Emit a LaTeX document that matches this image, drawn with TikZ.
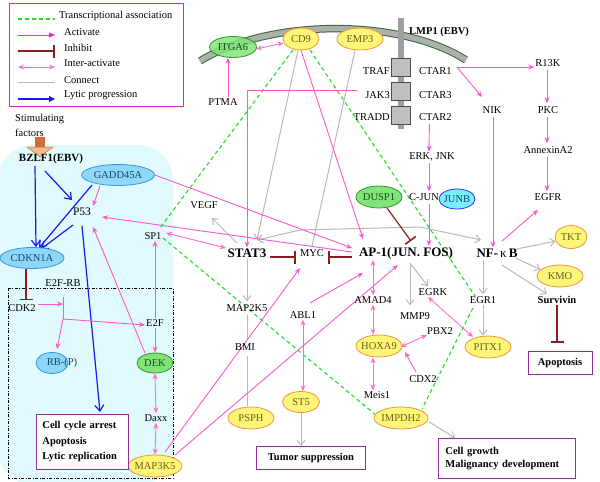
\documentclass[tikz,border=0pt]{standalone}
\usepackage{fontspec}
\setmainfont{Liberation Serif}
\usetikzlibrary{arrows.meta,shapes.geometric,calc}
\definecolor{actc}{RGB}{255,85,205}
\definecolor{legact}{RGB}{240,30,230}
\definecolor{interc}{RGB}{255,110,205}
\definecolor{inhc}{RGB}{140,30,35}
\definecolor{connc}{RGB}{185,185,185}
\definecolor{lytc}{RGB}{25,25,235}
\definecolor{tranc}{RGB}{30,225,30}
\definecolor{yelf}{RGB}{255,245,120}
\definecolor{yeld}{RGB}{240,150,60}
\definecolor{yelt}{RGB}{105,95,20}
\definecolor{grnf}{RGB}{130,228,120}
\definecolor{grnd}{RGB}{50,150,50}
\definecolor{grnt}{RGB}{20,80,20}
\definecolor{cyf}{RGB}{140,215,250}
\definecolor{cyd}{RGB}{60,150,220}
\definecolor{cyt}{RGB}{20,70,100}
\definecolor{junf}{RGB}{120,240,255}
\definecolor{bgc}{RGB}{225,250,253}
\definecolor{boxc}{RGB}{140,50,150}
\definecolor{legc}{RGB}{215,40,200}
\definecolor{memf}{RGB}{170,178,170}
\definecolor{memd}{RGB}{60,100,60}
\definecolor{shaftc}{RGB}{205,110,50}
\definecolor{headc}{RGB}{242,192,140}
\pgfdeclarelayer{bg}
\pgfdeclarelayer{lines}
\pgfsetlayers{bg,lines,main}
\tikzset{
  lbl/.style={inner sep=1pt, font=\fontsize{10.5}{12}\selectfont},
  bigl/.style={inner sep=1pt, font=\fontsize{13}{15}\selectfont\bfseries},
  ell/.style={ellipse, inner sep=0pt, inner xsep=-3pt, line width=0.8pt, font=\fontsize{10.5}{12}\selectfont},
  yel/.style={ell, draw=yeld, fill=yelf, text=yelt},
  grn/.style={ell, draw=grnd, fill=grnf, text=grnt},
  cyn/.style={ell, draw=cyd, fill=cyf, text=cyt},
  act/.style={draw=actc, line width=0.9pt, -{Stealth[length=6pt,width=5pt]}},
  inter/.style={draw=interc, line width=0.9pt, {Stealth[length=6pt,width=5pt]}-{Stealth[length=6pt,width=5pt]}},
  inh/.style={draw=inhc, line width=1.2pt, -{Bar[width=13pt,line width=1.6pt]}},
  conn/.style={draw=connc, line width=1pt},
  conna/.style={conn, -{Straight Barb[length=5pt,width=8pt,line width=1pt]}},
  lyt/.style={draw=lytc, line width=1.2pt, -{Straight Barb[length=6pt,width=9pt,line width=1.2pt]}},
  trans/.style={draw=tranc, line width=1.1pt, dash pattern=on 4pt off 3pt},
  outbox/.style={draw=boxc, line width=0.9pt, fill=white, align=left, inner sep=0pt, font=\fontsize{10.5}{15.5}\selectfont\bfseries},
}
\begin{document}
\begin{tikzpicture}[x=1pt,y=-1pt]
\useasboundingbox (0,0) rectangle (600,482);

% ---------- background ----------
\begin{pgfonlayer}{bg}
\fill[bgc, rounded corners=35pt] (-2,145) rectangle (173,485);
\draw[black, line width=0.6pt, dash pattern=on 3pt off 1.5pt on 1pt off 1.5pt] (8,288) rectangle (173,478);
\draw[line width=7.5pt, memd] (200,61) .. controls (270,18) and (400,18) .. (466,60);
\draw[line width=5.5pt, memf] (200,61) .. controls (270,18) and (400,18) .. (466,60);
\fill[gray!75] (398,18) rectangle (404,129);
\end{pgfonlayer}
\node[draw=gray!60!black, fill=gray!50, minimum width=19, minimum height=18, inner sep=0] (sqa) at (401,67) {};
\node[draw=gray!60!black, fill=gray!50, minimum width=19, minimum height=18, inner sep=0] (sqb) at (401,91) {};
\node[draw=gray!60!black, fill=gray!50, minimum width=19, minimum height=18, inner sep=0] (sqc) at (401,115) {};

% ---------- legend ----------
\node[draw=legc, line width=0.9pt, fill=white, minimum width=174, minimum height=103, anchor=north west, inner sep=0] (legend) at (9,3) {};
\draw[trans] (18,19) -- (55,19);
\draw[draw=legact, line width=1pt, -{Triangle[length=6pt,width=5pt]}] (18,35) -- (55,35);
\draw[draw=inhc, line width=1.2pt, -{Bar[width=13pt,line width=1.6pt]}] (18,51) -- (55,51);
\draw[inter] (18,67) -- (55,67);
\draw[conn] (18,82) -- (55,82);
\draw[draw=lytc, line width=1.2pt, -{Triangle[length=6pt,width=6pt]}] (18,99) -- (55,99);
\node[lbl, anchor=west] (lg1) at (58,16) {Transcriptional association};
\node[lbl, anchor=west] (lg2) at (63,32) {Activate};
\node[lbl, anchor=west] (lg3) at (63,48) {Inhibit};
\node[lbl, anchor=west] (lg4) at (63,63) {Inter-activate};
\node[lbl, anchor=west] (lg5) at (63,80) {Connect};
\node[lbl, anchor=west] (lg6) at (63,95) {Lytic progression};

% ---------- stimulating factors ----------
\node[lbl, anchor=west, align=left, font=\fontsize{10.5}{15}\selectfont] (stim) at (14,125) {Stimulating\\factors};
\fill[shaftc] (35,137) rectangle (45,147);
\filldraw[fill=headc, draw=shaftc, line width=0.5pt] (27,147) -- (53,147) -- (40,157) -- cycle;

% ---------- nodes ----------
\node[inner sep=1pt, font=\fontsize{11}{13}\selectfont\bfseries] (BZLF) at (51,159) {BZLF1(EBV)};
\node[cyn, minimum width=73, minimum height=21] (GADD) at (118,175) {GADD45A};
\node[lbl, font=\fontsize{11.5}{13}\selectfont] (P53) at (82,212) {P53};
\node[cyn, minimum width=64, minimum height=21] (CDKN) at (32,258) {CDKN1A};
\node[lbl] (E2FRB) at (63,283) {E2F-RB};
\node[lbl] (CDK2) at (22,308) {CDK2};
\node[lbl] (SP1) at (153,236) {SP1};
\node[lbl] (VEGF) at (204,205) {VEGF};
\node[bigl] (STAT3) at (247,253) {STAT3};
\node[lbl] (MYC) at (312,253) {MYC};
\node[bigl] (AP1) at (406,253) {AP-1(JUN. FOS)};
\node[bigl] (NFKB) at (497,253) {NF-\hspace{2pt}{\mdseries κ}\hspace{2pt}B};
\node[yel, minimum width=32, minimum height=23] (TKT) at (571,237) {TKT};
\node[yel, minimum width=46, minimum height=22] (KMO) at (560,276) {KMO};
\node[lbl, font=\fontsize{10.5}{12}\selectfont\bfseries] (Surv) at (557,300) {Survivin};
\node[outbox, align=center, minimum width=64, minimum height=23] (apop) at (560,362.5) {Apoptosis};
\node[lbl] (EGFR) at (548,197) {EGFR};
\node[lbl] (R13K) at (548,63) {R13K};
\node[lbl] (PKC) at (548,110) {PKC};
\node[lbl] (ANX) at (548,150) {AnnexinA2};
\node[lbl] (NIK) at (492,110) {NIK};
\node[lbl, anchor=west] (CTAR1) at (418,71) {CTAR1};
\node[lbl, anchor=west] (CTAR3) at (418,95) {CTAR3};
\node[lbl, anchor=west] (CTAR2) at (418,117) {CTAR2};
\node[lbl, anchor=west, font=\fontsize{10.5}{12}\selectfont\bfseries] (LMP1) at (408,32) {LMP1 (EBV)};
\node[lbl, anchor=east] (TRAF) at (391,71) {TRAF};
\node[lbl, anchor=east] (JAK3) at (391,95) {JAK3};
\node[lbl, anchor=east] (TRADD) at (391,117) {TRADD};
\node[grn, minimum width=47, minimum height=21, fill opacity=0.85, text opacity=1] (ITGA6) at (233,47) {ITGA6};
\node[yel, minimum width=36, minimum height=22] (CD9) at (301,39) {CD9};
\node[yel, minimum width=46, minimum height=22] (EMP3) at (360,39) {EMP3};
\node[lbl] (PTMA) at (223,102) {PTMA};
\node[lbl] (ERK) at (432,157) {ERK, JNK};
\node[ell, draw=blue!80, fill=junf, text=cyt, minimum width=36, minimum height=20] (JUNB) at (457,199) {JUNB};
\node[lbl] (CJUN) at (424,197) {C-JUN};
\node[grn, minimum width=46, minimum height=22] (DUSP1) at (379,197) {DUSP1};
\node[lbl] (EGRK) at (433,292) {EGRK};
\node[lbl] (MMP9) at (415,316) {MMP9};
\node[lbl] (AMAD4) at (373,300) {AMAD4};
\node[yel, minimum width=46, minimum height=22] (HOXA9) at (379,346) {HOXA9};
\node[lbl] (PBX2) at (440,331) {PBX2};
\node[lbl] (CDX2) at (423,379) {CDX2};
\node[lbl] (EGR1) at (483,300) {EGR1};
\node[yel, minimum width=46, minimum height=22] (PITX1) at (488,347) {PITX1};
\node[lbl] (Meis1) at (377,395) {Meis1};
\node[yel, minimum width=54, minimum height=22] (IMPDH2) at (401,418) {IMPDH2};
\node[outbox, anchor=north west, minimum width=137, minimum height=40, text width=123] (growth) at (438,438) {Cell growth\\[-2pt]Malignancy development};
\node[yel, minimum width=37, minimum height=21] (ST5) at (301,402) {ST5};
\node[yel, minimum width=46, minimum height=22] (PSPH) at (251,418) {PSPH};
\node[lbl] (BMI) at (245,347) {BMI};
\node[lbl] (ABL1) at (303,315) {ABL1};
\node[lbl] (MAP2K5) at (247,308) {MAP2K5};
\node[outbox, align=center, anchor=north west, minimum width=109, minimum height=23] (tumor) at (256,446) {Tumor suppression};
\node[grn, minimum width=36, minimum height=20] (DEK) at (155,363) {DEK};
\node[cyn, minimum width=32, minimum height=21] (RB) at (52,363) {};
\node[lbl, text=cyt] (RBt) at (62,363) {RB-(P)};
\node[lbl] (E2F) at (155,323) {E2F};
\node[lbl] (Daxx) at (156,418) {Daxx};
\node[yel, minimum width=54, minimum height=22] (MAP3K5) at (155,466) {MAP3K5};
\node[outbox, anchor=north west, minimum width=92, minimum height=55, text width=80] (cellc) at (36,414) {Cell cycle arrest\\Apoptosis\\Lytic replication};

% helper coordinates
\coordinate (rbt) at (63,297);
\coordinate (rbb) at (63,319);
\coordinate (g1) at (300,230);
\coordinate (g2) at (420,227);

% ---------- connectors ----------
\begin{pgfonlayer}{lines}
% lytic progression
\draw[lyt] ($(BZLF)+(-16,7)$) -- ($(CDKN.north)+(4,0)$);
\draw[lyt] ($(BZLF)+(-6,12)$) -- ($(P53)+(-10,-12)$);
\draw[lyt] ($(GADD)+(-26,10)$) -- ($(CDKN)+(7,-10)$);
\draw[lyt] ($(P53)+(-9,13)$) -- ($(CDKN)+(9,-9)$);
\draw[lyt] ($(P53)+(0,14)$) -- ($(cellc.north west)+(64,-2)$);

% transcriptional association
\draw[trans] ($(CD9)+(-8,11)$) -- ($(SP1)+(7,-8)$);
\draw[trans] ($(SP1)+(10,2)$) -- (IMPDH2.172);
\draw[trans] ($(CD9)+(9,11)$) -- ($(EGR1)+(-8,-4)$);
\draw[trans] ($(EGR1)+(-10,8)$) -- ($(IMPDH2)+(21,-9)$);

% connect (grey)
\draw[conna] ($(CD9.south)+(-3,0)$) -- ($(STAT3)+(10,-13)$);
\draw[conn] ($(EMP3.south)+(-5,0)$) -- ($(MYC.north)+(0,-2)$);
\draw[conn, {Straight Barb[length=5pt,width=8pt,line width=1pt]}-{Straight Barb[length=5pt,width=8pt,line width=1pt]}] ($(STAT3)+(10,-13)$) -- (g1) -- (g2) -- ($(NFKB)+(-16,-13)$);
\draw[conna] ($(STAT3)+(-10,-10)$) -- ($(VEGF)+(8,13)$);
\draw[conna] (STAT3.south) -- ($(MAP2K5.north)+(0,-2)$);
\draw[conn] ($(MAP2K5.south)+(0,2)$) -- ($(BMI.north)+(2,-2)$);
\draw[conn] ($(BMI.south)+(2,4)$) -- ($(PSPH.north)+(-4,-1)$);
\draw[conna] (ST5.south) -- (ST5.south |- tumor.north);
\draw[conna] ($(IMPDH2.east)+(1,4)$) -- ($(growth.north west)+(17,0)$);
\draw[conna] ($(AP1.south)+(4,3)$) -- ($(MMP9.north)+(-5,-6)$);
\draw[conna] ($(AP1.south)+(4,3)$) -- ($(EGRK.north)+(-5,-1)$);
\draw[conna] ($(NFKB.south)+(-14,2)$) -- ($(EGR1.north)+(0,-1)$);
\draw[conna] (EGR1.south) -- (EGR1.south |- PITX1.north);
\draw[conna] ($(NFKB.east)+(-2,-4)$) -- (TKT.195);
\draw[conna] ($(NFKB.east)+(-3,5)$) -- (KMO.162);
\draw[conna] ($(NFKB)+(5,12)$) -- ($(Surv.north)+(-10,-1)$);

% inhibit
\draw[inh] ($(CDKN.south)+(-6,0)$) -- ($(CDK2.north)+(4,-3)$);
\draw[inh] ($(STAT3.east)+(3,4)$) -- ($(MYC.west)+(-3,4)$);
\draw[inh] ($(AP1.west)+(-6,4)$) -- ($(MYC.east)+(3,4)$);
\draw[inh] ($(DUSP1)+(8,11)$) -- ($(AP1)+(5,-12)$);
\draw[inh] (Surv.south) -- ($(apop.north)+(-3,-8)$);

% activate / inter-activate
\draw[act] ($(GADD)+(-18,11)$) -- ($(P53)+(11,-6)$);
\draw[act] (GADD.east) -- ($(AP1)+(-54,-5)$);
\draw[act] ($(AP1)+(-54,-1)$) -- ($(P53)+(20,5)$);
\draw[inter] ($(SP1)+(13,-3)$) -- ($(STAT3)+(-21,-5)$);
\draw[act] (CD9.south) -- ($(AP1)+(-43,-14)$);
\draw[act] ($(JAK3.west)+(-7,-5)$) -| (STAT3.north);
\draw[act] ($(PTMA.north)+(5,0)$) -- ($(ITGA6.south)+(-5,0)$);
\draw[inter] ($(ITGA6.east)+(-1,2)$) -- ($(CD9.west)+(1,4)$);
\coordinate (c1) at ($(CTAR1.east)+(4,-4)$);
\draw[act] (c1) -- (c1 -| R13K.west);
\draw[act] (c1) -- ($(NIK)+(-10,-13)$);
\draw[act] ($(R13K.south)+(-1,2)$) -- ($(PKC.north)+(-1,-2)$);
\draw[act] ($(PKC.south)+(-1,2)$) -- ($(ANX.north)+(-1,-2)$);
\draw[act] ($(ANX.south)+(-1,2)$) -- ($(EGFR.north)+(-1,-1)$);
\draw[act] ($(NIK.south)+(1,2)$) -- ($(NIK.south |- NFKB.north)+(1,0)$);
\draw[act] ($(NFKB)+(5,-12)$) -- ($(EGFR)+(-10,13)$);
\draw[act] ($(CTAR2.south)+(-6,2)$) -- ($(ERK.north)+(-3,0)$);
\draw[act] ($(ERK.south)+(-3,1)$) -- ($(CJUN.north)+(5,-1)$);
\draw[act] ($(CJUN.south)+(5,2)$) -- ($(AP1.north)+(23,0)$);
\draw[act] ($(ABL1)+(7,-12)$) -- ($(AP1)+(-43,20)$);
\draw[inter] (ABL1.south) -- (ABL1.south |- ST5.north);
\draw[act] ($(MAP3K5)+(10,-14)$) -- ($(MYC)+(-12,15)$);
\draw[act] ($(MAP3K5)+(20,-11)$) -- ($(AP1)+(-8,12)$);
\draw[act] (E2F.north) -- (E2F.north |- SP1.south);
\draw[act] (E2F.south) -- (DEK.north);
\draw[act] ($(DEK)+(-10,-10)$) -- ($(P53)+(11,15)$);
\draw[draw=actc, line width=0.9pt] (rbt) -- (rbb);
\draw[act] ($(CDK2.east)+(1,-4)$) -- ($(CDK2.east -| rbt)+(0,-4)$);
\draw[act] (rbb) -- ($(RB.north)+(5,-3)$);
\draw[act] (rbb) -- ($(E2F.west)+(0,2)$);
\draw[inter] (DEK.south) -- (Daxx.north);
\draw[inter] (Daxx.south) -- (MAP3K5.north);
\draw[inter] ($(AP1.south)+(-33,0)$) -- (AMAD4.north);
\draw[inter] (AMAD4.south) -- (AMAD4.south |- HOXA9.north);
\draw[inter] ($(HOXA9.south)+(-6,0)$) -- ($(Meis1.north)+(-4,0)$);
\draw[inter] ($(HOXA9.east)+(-2,1)$) -- ($(PBX2.west)+(1,4)$);
\draw[act] ($(CDX2)+(-7,-7)$) -- ($(HOXA9)+(26,6)$);
\draw[inter] ($(EGRK)+(-5,5)$) -- ($(PITX1)+(-15,-10)$);
\end{pgfonlayer}
\end{tikzpicture}
\end{document}
